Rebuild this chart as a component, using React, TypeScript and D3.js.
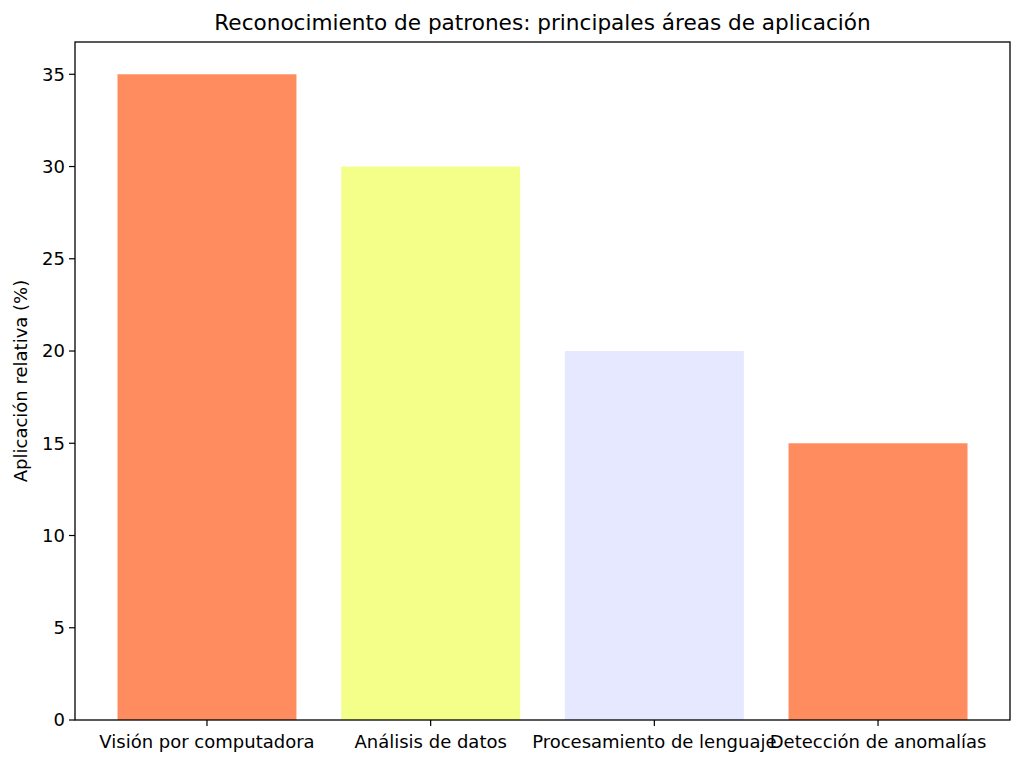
import React from 'react';
import * as d3 from 'd3';

const categories = ['Visión por computadora', 'Análisis de datos', 'Procesamiento de lenguaje', 'Detección de anomalías'];
const values = [35, 30, 20, 15];
const barColors = ['#ff8c5e', '#f4ff8a', '#e5e8ff', '#ff8c5e'];
const yTicks = [0, 5, 10, 15, 20, 25, 30, 35];

const W = 1024;
const H = 765;
const margin = { top: 42, right: 14, bottom: 45, left: 75 };
const FONT = 'DejaVu Sans, sans-serif';
const FS = 18;

export default function App() {
  const innerW = W - margin.left - margin.right;
  const innerH = H - margin.top - margin.bottom;

  // matplotlib-like: bars of width 0.8 at integer positions, 5% margins
  const n = categories.length;
  const x = d3.scaleLinear().domain([-0.4 - 0.19, n - 1 + 0.4 + 0.19]).range([0, innerW]);
  const y = d3.scaleLinear().domain([0, 35 * 1.05]).range([innerH, 0]);
  const bw = x(0.8) - x(0);

  return (
    <div>
      <style>{'body{margin:0}'}</style>
      <svg width={W} height={H} style={{ display: 'block', background: '#fff' }} fontFamily={FONT}>
        <text x={margin.left + innerW / 2} y={30} textAnchor="middle" fontSize={21.6} fill="#000">
          Reconocimiento de patrones: principales áreas de aplicación
        </text>
        <g transform={`translate(${margin.left},${margin.top})`}>
          {values.map((v, i) => (
            <rect key={i} x={x(i) - bw / 2} y={y(v)} width={bw} height={innerH - y(v)} fill={barColors[i]} />
          ))}
          {yTicks.map((t) => (
            <g key={t} transform={`translate(0,${y(t)})`}>
              <line x1={-6} x2={0} stroke="#000" strokeWidth={1.2} />
              <text x={-10} dy="0.35em" textAnchor="end" fontSize={FS} fill="#000">{t}</text>
            </g>
          ))}
          {categories.map((c, i) => (
            <g key={c} transform={`translate(${x(i)},${innerH})`}>
              <line y1={0} y2={6} stroke="#000" strokeWidth={1.2} />
              <text y={22} dy="0.35em" textAnchor="middle" fontSize={FS} fill="#000">{c}</text>
            </g>
          ))}
          <rect x={0} y={0} width={innerW} height={innerH} fill="none" stroke="#000" strokeWidth={1.3} />
          <text transform={`translate(-48,${innerH / 2}) rotate(-90)`} textAnchor="middle" fontSize={FS} fill="#000">
            Aplicación relativa (%)
          </text>
        </g>
      </svg>
    </div>
  );
}
